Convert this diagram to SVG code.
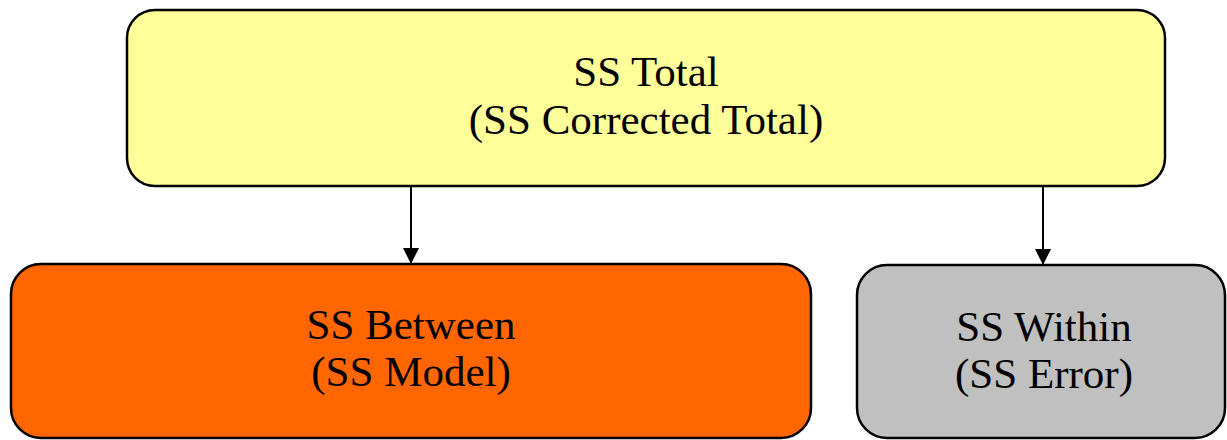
<svg xmlns="http://www.w3.org/2000/svg" width="1227" height="440" viewBox="0 0 1227 440">
<style>
.box{stroke:#000;stroke-width:2.5}
.lbl{font-family:"Liberation Serif","Times New Roman",serif;font-size:43px;fill:#000;text-anchor:middle}
.conn{stroke:#000;stroke-width:2;fill:none}
</style>
<defs>
<marker id="ah" viewBox="0 0 16 16" refX="16" refY="8" markerWidth="16" markerHeight="16" markerUnits="userSpaceOnUse" orient="auto">
<path d="M0,0 L16,8 L0,16 Z" fill="#000"/>
</marker>
</defs>
<rect width="1227" height="440" fill="#fff"/>
<g id="connectors">
<line class="conn" x1="411" y1="186" x2="411" y2="264" marker-end="url(#ah)"/>
<line class="conn" x1="1043" y1="186" x2="1043" y2="265" marker-end="url(#ah)"/>
</g>
<g id="ss-total">
<rect class="box" x="127" y="10" width="1038" height="176" rx="28" fill="#ffff99"/>
<text class="lbl" x="646" y="86">SS Total</text>
<text class="lbl" x="646" y="134">(SS Corrected Total)</text>
</g>
<g id="ss-between">
<rect class="box" x="11" y="264" width="800" height="174" rx="30" fill="#ff6600"/>
<text class="lbl" x="411" y="339">SS Between</text>
<text class="lbl" x="411" y="386">(SS Model)</text>
</g>
<g id="ss-within">
<rect class="box" x="857" y="265" width="368" height="173" rx="30" fill="#c0c0c0"/>
<text class="lbl" x="1044" y="341">SS Within</text>
<text class="lbl" x="1044" y="388">(SS Error)</text>
</g>
</svg>
